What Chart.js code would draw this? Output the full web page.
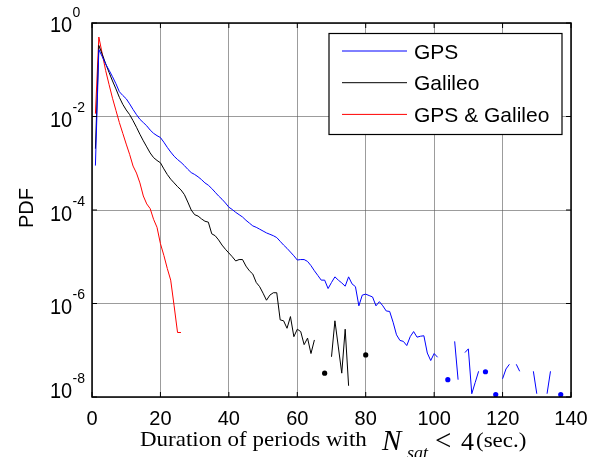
<!DOCTYPE html>
<html>
<head>
<meta charset="utf-8">
<script src="https://cdn.jsdelivr.net/npm/chart.js@4.4.0/dist/chart.umd.min.js"></script>
<style>
html, body { margin: 0; padding: 0; background: #fff; }
#wrap { width: 601px; height: 457px; position: relative; }
</style>
</head>
<body>
<div id="wrap"><canvas id="chart1"></canvas></div>
<script>
// log10(PDF), one value per second of duration (starting at 1 s)
// null = no occurrence (gap in the log plot)
const gpsLog10 = [
	-3.05, -0.57, -0.72, -0.88, -1.01, -1.15, -1.30, -1.47, -1.55, -1.62,
	-1.73, -1.85, -1.96, -2.06, -2.13, -2.20, -2.29, -2.36, -2.41, -2.45,
	-2.55, -2.66, -2.76, -2.85, -2.92, -2.98, -3.05, -3.13, -3.20, -3.24,
	-3.29, -3.35, -3.42, -3.47, -3.54, -3.62, -3.70, -3.77, -3.85, -3.94,
	-3.99, -4.05, -4.10, -4.15, -4.22, -4.28, -4.34, -4.37, -4.41, -4.45,
	-4.49, -4.52, -4.55, -4.59, -4.67, -4.75, -4.82, -4.90, -4.98, -5.07,
	-5.06, -5.06, -5.10, -5.19, -5.30, -5.40, -5.50, -5.50, -5.68, -5.55,
	-5.43, -5.50, -5.56, -5.63, -5.43, -5.58, -5.64, -6.05, -5.82, -5.80,
	-5.83, -5.86, -6.05, -5.96, -6.05, -6.16, -6.17, -6.40, -6.67, -6.79,
	-6.81, -6.90, -6.71, -6.60, -6.72, -6.70, -6.69, -7.06, -7.22, -7.07,
	-7.15, null, null, -7.63, null, -6.81, -7.63, null, -7.05, -6.97,
	-7.93, -7.69, -7.45, null, -7.46, null, null, -7.95, null, -7.61,
	-7.40, -7.30, null, -7.30, -7.45, null, null, null, -7.45, -7.93,
	null, null, -7.93, -7.45, null, null, -7.95
];
const galileoLog10 = [
	-2.69, -0.48, -0.67, -0.87, -1.06, -1.24, -1.41, -1.59, -1.74, -1.86,
	-1.96, -2.09, -2.23, -2.38, -2.52, -2.65, -2.78, -2.88, -2.94, -2.99,
	-3.12, -3.24, -3.34, -3.42, -3.50, -3.57, -3.67, -3.83, -4.00, -4.10,
	-4.13, -4.19, -4.24, -4.26, -4.51, -4.55, -4.64, -4.75, -4.84, -4.92,
	-5.00, -5.09, -5.06, -5.06, -5.20, -5.30, -5.37, -5.55, -5.64, -5.78,
	-5.93, -5.82, -5.77, -5.77, -6.35, -6.37, -6.53, -6.28, -6.71, -6.55,
	-6.60, -6.88, -6.74, -7.07, -6.78, null, null, -7.49, null, -7.14,
	-6.37, -6.93, -7.49, -6.55, -7.76, null, null, null, null, -7.10
];
const bothLog10 = [
	-1.94, -0.30, -0.66, -1.02, -1.32, -1.61, -1.87, -2.13, -2.36, -2.59,
	-2.81, -3.06, -3.21, -3.42, -3.70, -3.87, -3.97, -4.20, -4.37, -4.72,
	-4.97, -5.25, -5.50, -6.05, -6.62, -6.62
];
const seriesNames = ['GPS', 'Galileo', 'GPS & Galileo'];
const seriesColors = ['#0000ff', '#000000', '#ff0000'];
const xTicks = [0, 20, 40, 60, 80, 100, 120, 140];
const yTickExps = [0, -2, -4, -6, -8];

function toPoints(arr) {
	var pts = [];
	for (var i = 0; i < arr.length; i++) {
		pts.push({ x: i + 1, y: arr[i] === null ? null : Math.pow(10, arr[i]) });
	}
	return pts;
}

// a dot only where a value has no neighbour to join to
function lonePoint(c) {
	var d = c.dataset.data, i = c.dataIndex;
	if (!d[i] || d[i].y === null) return 0;
	var prev = i > 0 ? d[i - 1].y : null;
	var next = i < d.length - 1 ? d[i + 1].y : null;
	return (prev === null && next === null) ? 2.6 : 0;
}

const sansFont = "'Liberation Sans', Arial, sans-serif";
const serifFont = "'Liberation Serif', 'Times New Roman', serif";

function squashText(ctx, txt, x, y, font, sy) {
	ctx.save();
	ctx.translate(x, y);
	ctx.scale(1, sy);
	ctx.font = font;
	ctx.fillText(txt, 0, 0);
	ctx.restore();
}

const matlabAxes = {
	id: 'matlabAxes',
	afterDatasetsDraw(chart) {
		const ctx = chart.ctx, a = chart.chartArea;
		const xs = chart.scales.x, ys = chart.scales.y;
		ctx.save();

		// legend box
		const lx = a.left + 237, ly = a.top + 10.5, lw = 233, lh = 101;
		ctx.fillStyle = '#fff';
		ctx.fillRect(lx, ly, lw, lh);
		ctx.strokeStyle = '#000';
		ctx.lineWidth = 1.2;
		ctx.strokeRect(lx, ly, lw, lh);
		ctx.font = '21px ' + sansFont;
		ctx.textBaseline = 'alphabetic';
		ctx.textAlign = 'left';
		for (var i = 0; i < seriesNames.length; i++) {
			var yy = ly + 17.5 + i * 31.7;
			ctx.strokeStyle = seriesColors[i];
			ctx.lineWidth = 1;
			ctx.beginPath();
			ctx.moveTo(lx + 13, yy);
			ctx.lineTo(lx + 78, yy);
			ctx.stroke();
			ctx.fillStyle = '#000';
			ctx.fillText(seriesNames[i], lx + 85, yy + 7.5);
		}

		// axes box
		ctx.strokeStyle = '#000';
		ctx.lineWidth = 1.5;
		ctx.strokeRect(a.left, a.top, a.right - a.left, a.bottom - a.top);

		// inner tick marks
		ctx.lineWidth = 1;
		ctx.beginPath();
		xTicks.forEach(function (v) {
			var px = xs.getPixelForValue(v);
			ctx.moveTo(px, a.bottom); ctx.lineTo(px, a.bottom - 5);
			ctx.moveTo(px, a.top); ctx.lineTo(px, a.top + 5);
		});
		yTickExps.forEach(function (e) {
			var py = ys.getPixelForValue(Math.pow(10, e));
			ctx.moveTo(a.left, py); ctx.lineTo(a.left + 5, py);
			ctx.moveTo(a.right, py); ctx.lineTo(a.right - 5, py);
		});
		ctx.stroke();

		// x tick labels
		ctx.fillStyle = '#000';
		ctx.font = '20px ' + sansFont;
		ctx.textAlign = 'center';
		xTicks.forEach(function (v) {
			ctx.fillText(String(v), xs.getPixelForValue(v), a.bottom + 28);
		});

		// y tick labels 10^e
		ctx.textAlign = 'left';
		yTickExps.forEach(function (e, k) {
			var py = ys.getPixelForValue(Math.pow(10, e));
			if (k === 0) py -= 1.5;
			if (k === yTickExps.length - 1) py -= 9.5;
			squashText(ctx, '10', 50, py + 10.5, '20px ' + sansFont, 1.1);
			ctx.font = '14px ' + sansFont;
			ctx.fillText(String(e), 72.5, py - 4.5);
		});

		// y title
		ctx.save();
		ctx.translate(33, 208);
		ctx.rotate(-Math.PI / 2);
		ctx.font = '20px ' + sansFont;
		ctx.textAlign = 'center';
		ctx.fillText('PDF', 0, 0);
		ctx.restore();

		// x title
		ctx.textAlign = 'left';
		squashText(ctx, 'Duration of periods with', 140, 446, '23px ' + serifFont, 0.9);
		ctx.font = 'italic 29px ' + serifFont;
		ctx.fillText('N', 382, 450);
		ctx.font = 'italic 18px ' + serifFont;
		ctx.fillText('sat', 407, 459);
		ctx.font = '29px ' + serifFont;
		ctx.fillText('<', 435, 450);
		ctx.font = '26px ' + serifFont;
		ctx.fillText('4', 461, 450);
		squashText(ctx, '(sec.)', 476, 447, '23px ' + serifFont, 0.9);

		ctx.restore();
	}
};

const ctx = document.getElementById('chart1').getContext('2d');
const allSeries = [gpsLog10, galileoLog10, bothLog10];
const myChart = new Chart(ctx, {
	type: 'line',
	data: {
		datasets: allSeries.map(function (s, i) {
			return {
				label: seriesNames[i],
				data: toPoints(s),
				borderColor: seriesColors[i],
				backgroundColor: seriesColors[i],
				borderWidth: 1,
				pointRadius: lonePoint,
				pointHoverRadius: 0,
				pointBorderWidth: 0,
				tension: 0,
				spanGaps: false,
				fill: false
			};
		})
	},
	options: {
		responsive: true,
		maintainAspectRatio: false,
		animation: false,
		events: [],
		layout: { padding: { left: 0, top: 23, right: 30, bottom: 0 } },
		plugins: {
			legend: { display: false },
			tooltip: { enabled: false }
		},
		scales: {
			x: {
				type: 'linear',
				min: 0,
				max: 140,
				ticks: { stepSize: 20, display: false },
				grid: { color: 'rgba(90,90,90,0.6)', lineWidth: 1, drawTicks: false },
				border: { display: false },
				afterFit: function (s) { s.height = 60; }
			},
			y: {
				type: 'logarithmic',
				min: 1e-8,
				max: 1,
				afterBuildTicks: function (s) {
					s.ticks = yTickExps.map(function (e) { return { value: Math.pow(10, e) }; });
				},
				ticks: { display: false },
				grid: { color: 'rgba(90,90,90,0.6)', lineWidth: 1, drawTicks: false },
				border: { display: false },
				afterFit: function (s) { s.width = 92; }
			}
		}
	},
	plugins: [matlabAxes]
});
</script>
</body>
</html>
